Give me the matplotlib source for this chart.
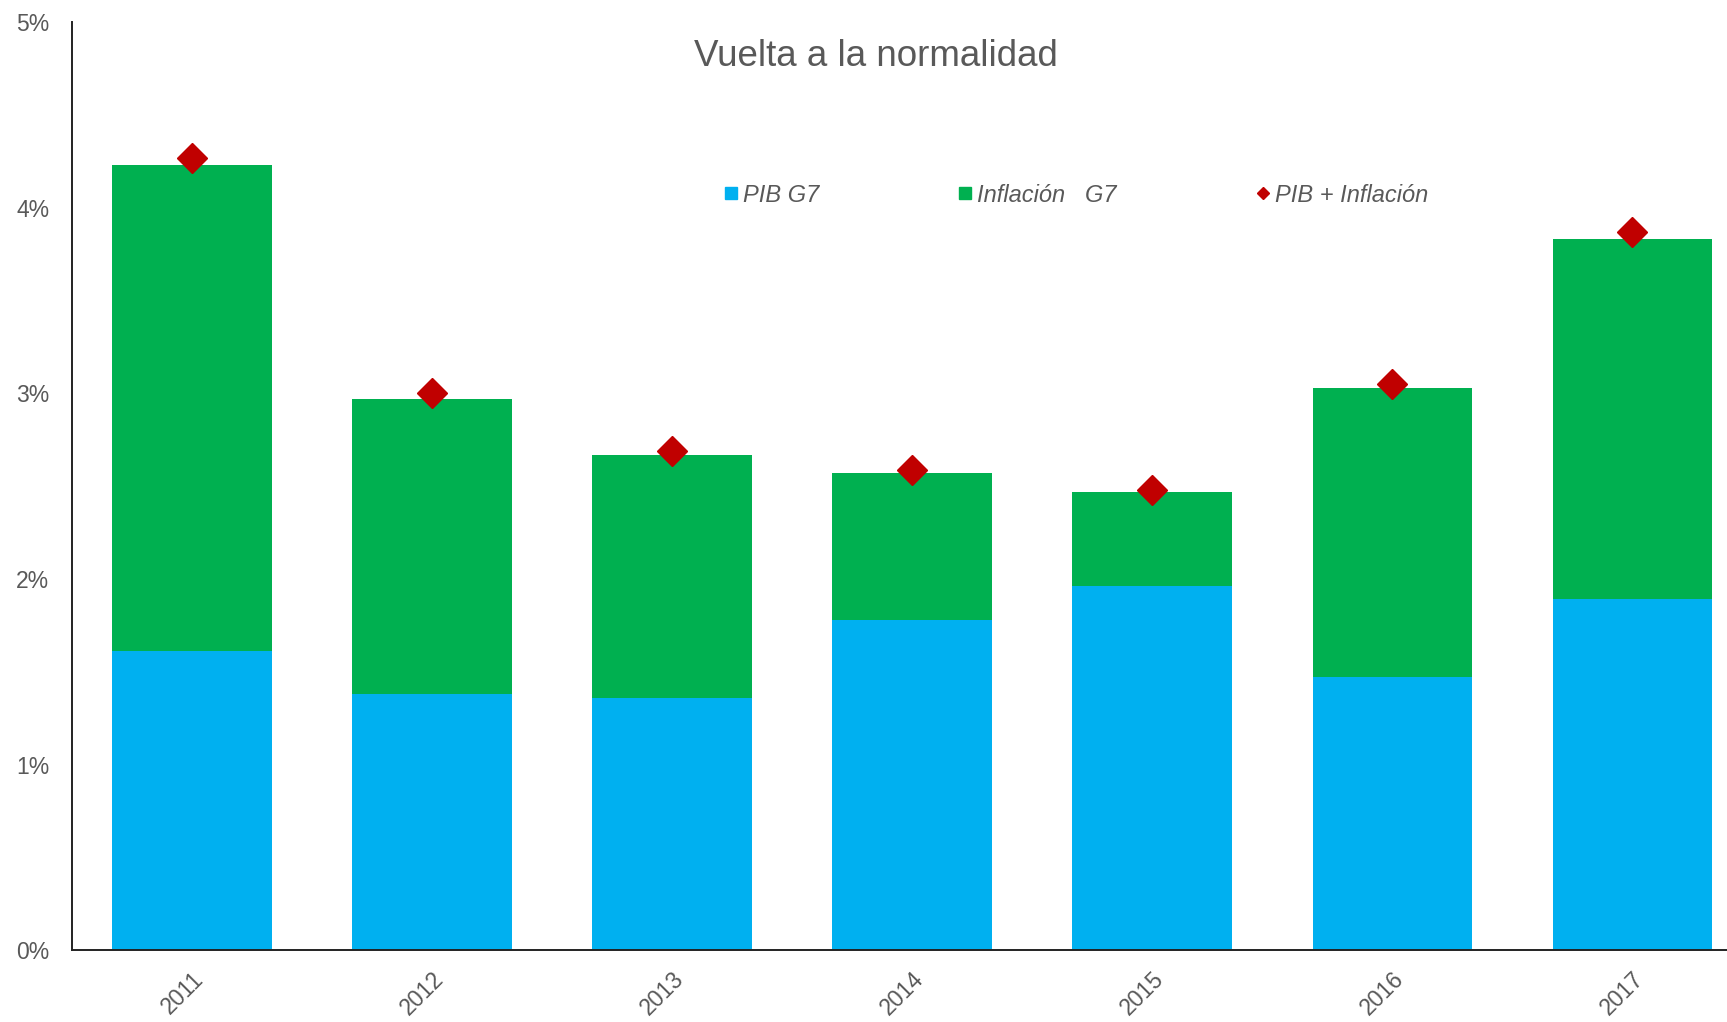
import matplotlib.pyplot as plt
from matplotlib.lines import Line2D

plt.rcParams['font.family'] = ['Liberation Sans', 'DejaVu Sans']

years = ['2011', '2012', '2013', '2014', '2015', '2016', '2017']
pib = [1.61, 1.38, 1.36, 1.78, 1.96, 1.47, 1.89]
inflacion = [2.62, 1.59, 1.31, 0.79, 0.51, 1.56, 1.94]
suma = [4.27, 3.00, 2.69, 2.59, 2.48, 3.05, 3.87]

blue = '#00B0F0'
green = '#00B050'
red = '#C00000'
gray = '#595959'

fig = plt.figure(figsize=(17.27, 10.22), dpi=100)
ax = fig.add_axes([0.0415, 0.07, 0.9733, 0.9085])

x = range(len(years))
ax.bar(x, pib, width=0.665, color=blue, linewidth=0)
ax.bar(x, inflacion, width=0.665, bottom=pib, color=green, linewidth=0)
ax.plot(x, suma, linestyle='none', marker='D', markersize=15, color=red)

ax.set_xlim(-0.5, 6.5)
ax.set_ylim(0, 5)
ax.set_yticks([0, 1, 2, 3, 4, 5])
ax.set_yticklabels(['0%', '1%', '2%', '3%', '4%', '5%'])
ax.set_xticks(list(x))
ax.set_xticklabels(years, rotation=45, ha='right', rotation_mode='anchor')
ax.tick_params(axis='y', length=0, pad=16, labelsize=16.5, labelcolor=gray)
ax.tick_params(axis='x', length=0, pad=12, labelsize=16.5, labelcolor=gray)

for s in ['top', 'right']:
    ax.spines[s].set_visible(False)
for s in ['left', 'bottom']:
    ax.spines[s].set_color('#222222')
    ax.spines[s].set_linewidth(1.4)

fig.text(0.507, 0.945, 'Vuelta a la normalidad', ha='center', va='center',
         fontsize=26.5, color=gray)

handles = [
    Line2D([], [], linestyle='none', marker='s', markersize=8, color=blue),
    Line2D([], [], linestyle='none', marker='s', markersize=8, color=green),
    Line2D([], [], linestyle='none', marker='D', markersize=6, color=red),
]
labels = ['PIB G7', 'Inflación   G7', 'PIB + Inflación']
leg = ax.legend(handles, labels, ncol=3, loc='center',
                bbox_to_anchor=(0.623, 0.809), bbox_transform=fig.transFigure,
                frameon=False, handlelength=0.6, handletextpad=0.2,
                columnspacing=5.9, prop={'style': 'italic', 'size': 17})
for t in leg.get_texts():
    t.set_color(gray)

fig.savefig('out.png', dpi=100)
